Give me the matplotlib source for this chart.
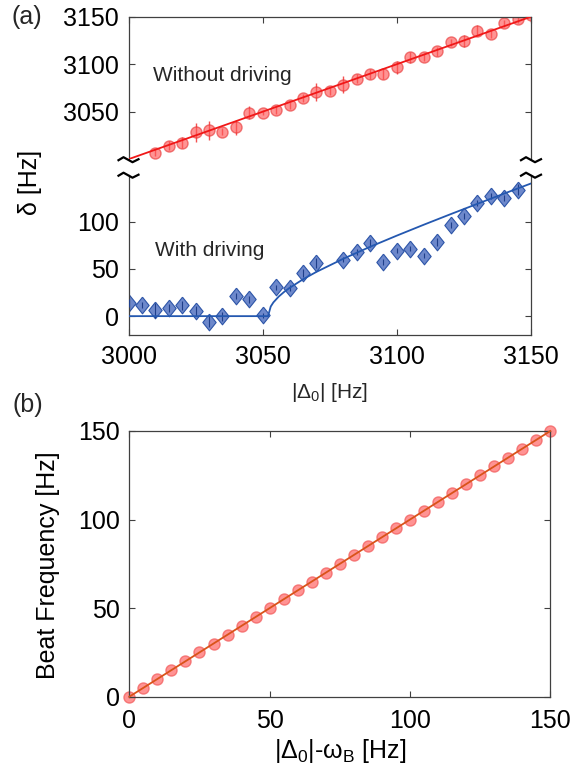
import matplotlib
matplotlib.use("Agg")
import matplotlib.pyplot as plt
from matplotlib.lines import Line2D

plt.rcParams['font.family'] = ['Liberation Sans', 'DejaVu Sans']
plt.rcParams['mathtext.fontset'] = 'custom'
plt.rcParams['mathtext.rm'] = 'Liberation Sans'
plt.rcParams['mathtext.it'] = 'Liberation Sans'
plt.rcParams['mathtext.bf'] = 'Liberation Sans'

# (a) without driving
red_x = [3010, 3015, 3020, 3025, 3030, 3035, 3040, 3045, 3050, 3055,
         3060, 3065, 3070, 3075, 3080, 3085, 3090, 3095, 3100, 3105,
         3110, 3115, 3120, 3125, 3130, 3135, 3140, 3145, 3150]
red_y = [3006.9, 3014.2, 3017.4, 3028.6, 3030.7, 3029.0, 3033.6, 3049.0, 3049.0, 3052.1,
         3056.7, 3064.4, 3070.7, 3072.1, 3078.4, 3084.7, 3089.7, 3090.0, 3096.7, 3107.3,
         3107.3, 3113.6, 3123.0, 3124.4, 3135.3, 3131.5, 3143.0, 3147.2, 3152.1]
red_err = [4, 5, 6, 10, 10, 4, 8, 7, 3, 4, 4, 4, 9, 4, 9, 5, 5, 6, 7, 6,
           4, 5, 4, 6, 6, 4, 4, 4, 8]
red_fit_x = [3000, 3150]
red_fit_y = [3000, 3150]

# (a) with driving
blue_x = [3000, 3005, 3010, 3015, 3020, 3025, 3030, 3035, 3040, 3045,
          3050, 3055, 3060, 3065, 3070, 3080, 3085, 3090, 3095, 3100,
          3105, 3110, 3115, 3120, 3125, 3130, 3135, 3140, 3145]
blue_y = [13.8, 12.1, 6.1, 8.5, 11.4, 5.3, -6.0, -0.3, 21.3, 17.8,
          0.7, 30.5, 29.5, 45.7, 56.4, 60.0, 68.1, 77.7, 57.5, 69.6,
          71.7, 64.3, 78.7, 96.5, 106.0, 120.2, 127.3, 125.2, 134.0]
blue_err = [4, 3, 8, 4, 5, 5, 6, 5, 3, 4, 3, 3, 3, 4, 5, 3, 3, 4, 3, 3,
            3, 3, 4, 3, 3, 3, 3, 3, 6]
blue_fit_x = [3000, 3050, 3052, 3053, 3054, 3056, 3058, 3060, 3065, 3070,
              3080, 3090, 3100, 3110, 3120, 3130, 3140, 3150]
blue_fit_y = [0, 0, 0, 10.2, 14.6, 20.8, 25.7, 29.9, 39.0, 46.9,
              60.8, 73.5, 85.4, 96.9, 108.1, 119.1, 130.0, 140.7]

# (b) beat frequency
beat_x = [0, 5, 10, 15, 20, 25, 30, 35, 40, 45, 50, 55, 60, 65, 70, 75,
          80, 85, 90, 95, 100, 105, 110, 115, 120, 125, 130, 135, 140, 145, 150]
beat_y = [0, 5, 10, 15, 20, 25, 30, 35, 40, 45, 50, 55, 60, 65, 70, 75,
          80, 85, 90, 95, 100, 105, 110, 115, 120, 125, 130, 135, 140, 145, 150]

W, H = 586, 770
fig = plt.figure(figsize=(W / 100, H / 100), dpi=100)

spine_c = '#404040'
txt_c = '#262626'
fs_tick = 18
fs_lab = 18

# wider diamond than matplotlib's 'd'
diamond = [(0, 1), (0.8, 0), (0, -1), (-0.8, 0), (0, 1)]


def px(x0, y0, x1, y1):
    # pixel box -> figure fraction rect
    return [x0 / W, 1 - y1 / H, (x1 - x0) / W, (y1 - y0) / H]


ax_up = fig.add_axes(px(128.5, 16.7, 531, 159.2))
ax_lo = fig.add_axes(px(128.5, 174.7, 531, 335))
ax_b = fig.add_axes(px(129.3, 431, 550.3, 696.7))

for ax in (ax_up, ax_lo, ax_b):
    for s in ax.spines.values():
        s.set_color(spine_c)
        s.set_linewidth(0.9)
    ax.tick_params(direction='in', length=4, width=0.8, color=spine_c,
                   labelsize=fs_tick, labelcolor='black', top=True, right=True)

# upper part of broken axis
ax_up.errorbar(red_x, red_y, yerr=red_err, fmt='o', ms=8,
               mfc=(1.0, 0.35, 0.35, 0.65), mec=(0.9, 0.2, 0.2, 0.6),
               ecolor=(0.95, 0.15, 0.15, 0.8), elinewidth=1, capsize=0, zorder=2)
ax_up.plot(red_fit_x, red_fit_y, color='#f01818', lw=1.3, zorder=3)
ax_up.set_xlim(3000, 3150)
ax_up.set_ylim(3000, 3150)
ax_up.set_yticks([3050, 3100, 3150])
ax_up.spines['bottom'].set_visible(False)
ax_up.tick_params(axis='x', bottom=False, labelbottom=False)
ax_up.tick_params(axis='y', pad=7)
ax_up.text(3009, 3088, 'Without driving', fontsize=15, color=txt_c, va='center')

# lower part of broken axis
ax_lo.errorbar(blue_x, blue_y, yerr=blue_err, fmt='none',
               ecolor='#1f3f8a', elinewidth=0.8, capsize=0, zorder=3)
ax_lo.plot(blue_x, blue_y, linestyle='none', marker=diamond, ms=12,
           mfc=(0.33, 0.45, 0.76, 0.85), mec='#2d55a8', mew=0.8, zorder=2)
ax_lo.plot(blue_fit_x, blue_fit_y, color='#2458b0', lw=1.3, zorder=3)
ax_lo.set_xlim(3000, 3150)
ax_lo.set_ylim(-20, 150)
ax_lo.set_yticks([0, 50, 100])
ax_lo.set_xticks([3000, 3050, 3100, 3150])
ax_lo.spines['top'].set_visible(False)
ax_lo.tick_params(axis='x', top=False, pad=7)
ax_lo.tick_params(axis='y', pad=7)
ax_lo.text(3010, 70, 'With driving', fontsize=15, color=txt_c, va='center')

# break marks
zig_x = [-10, -5, 4, 10]
zig_y = [-1, 2, -3, 0]
for ax, yfrac in ((ax_up, 0.0), (ax_lo, 1.0)):
    pos = ax.get_position()
    for xfrac in (0.0, 1.0):
        cx = (pos.x0 + xfrac * pos.width) * W
        cy = (pos.y0 + yfrac * pos.height) * H
        fig.add_artist(Line2D([(cx + dx) / W for dx in zig_x],
                              [(cy + dy) / H for dy in zig_y],
                              color='black', lw=1.6))

fig.text(30 / W, 1 - 182 / H, 'δ [Hz]', rotation=90, fontsize=fs_lab,
         ha='center', va='center', color='black')
fig.text(330 / W, 1 - 393 / H, r'$|\Delta_0|$ [Hz]', fontsize=15,
         ha='center', va='center', color=txt_c)
fig.text(27 / W, 1 - 17 / H, '(a)', fontsize=fs_lab, ha='center', va='center', color=txt_c)
fig.text(28 / W, 1 - 405 / H, '(b)', fontsize=fs_lab, ha='center', va='center', color=txt_c)

# (b)
ax_b.plot(beat_x, beat_y, 'o', ms=8, mfc=(1.0, 0.4, 0.4, 0.7),
          mec=(0.95, 0.35, 0.35, 0.7), zorder=2)
ax_b.plot(beat_x, beat_y, color='#d95319', lw=1.3, zorder=3)
ax_b.set_xlim(0, 150)
ax_b.set_ylim(0, 150)
ax_b.set_xticks([0, 50, 100, 150])
ax_b.set_yticks([0, 50, 100, 150])
ax_b.tick_params(axis='x', pad=9)
ax_b.tick_params(axis='y', pad=7)
for line in ax_b.lines:
    line.set_clip_on(False)
fig.text(48 / W, 1 - 565 / H, 'Beat Frequency [Hz]', rotation=90, fontsize=fs_lab,
         ha='center', va='center', color='black')
fig.text(340 / W, 1 - 751 / H, r'$|\Delta_0|$-$\omega_B$ [Hz]', fontsize=fs_lab,
         ha='center', va='center', color='black')

fig.savefig('out.png', dpi=100)
